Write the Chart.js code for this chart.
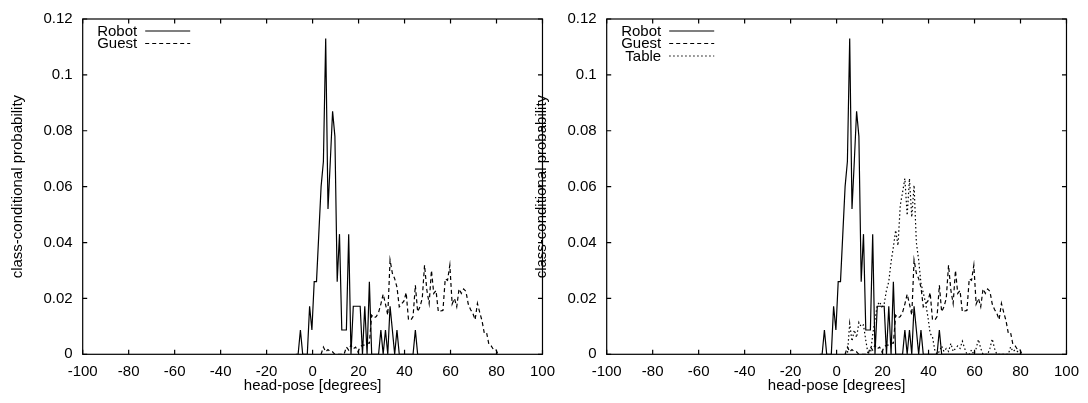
<!DOCTYPE html>
<html>
<head>
<meta charset="utf-8">
<script src="https://cdn.jsdelivr.net/npm/chart.js@4.4.1/dist/chart.umd.min.js"></script>
<style>
  html, body { margin: 0; padding: 0; background: #fff; }
  #wrap { position: relative; width: 1088px; height: 403px; overflow: hidden; }
  .panel { position: absolute; top: 0; width: 564px; height: 403px; }
</style>
</head>
<body>
<div id="wrap">
  <div class="panel" style="left:0"><canvas id="leftChart"></canvas></div>
  <div class="panel" style="left:524px"><canvas id="rightChart"></canvas></div>
</div>
<script>
// histogram bin centres (degrees)
const headPose = [
  -7.3, -6.3, -5.3, -4.3, -3.3, -2.3, -1.3, -0.3, 0.7, 1.7,
  2.7, 3.7, 4.7, 5.7, 6.7, 7.7, 8.7, 9.7, 10.7, 11.7,
  12.7, 13.7, 14.7, 15.7, 16.7, 17.7, 18.7, 19.7, 20.7, 21.7,
  22.7, 23.7, 24.7, 25.7, 26.7, 27.7, 28.7, 29.7, 30.7, 31.7,
  32.7, 33.7, 34.7, 35.7, 36.7, 37.7, 38.7, 39.7, 40.7, 41.7,
  42.7, 43.7, 44.7, 45.7, 46.7, 47.7, 48.7, 49.7, 50.7, 51.7,
  52.7, 53.7, 54.7, 55.7, 56.7, 57.7, 58.7, 59.7, 60.7, 61.7,
  62.7, 63.7, 64.7, 65.7, 66.7, 67.7, 68.7, 69.7, 70.7, 71.7,
  72.7, 73.7, 74.7, 75.7, 76.7, 77.7, 78.7, 79.7, 80.7
];

const robot = [
  0, 0, 0.0087, 0, 0, 0, 0.0172, 0.0087, 0.026, 0.026,
  0.043, 0.060, 0.069, 0.113, 0.052, 0.069, 0.087, 0.078, 0.026, 0.043,
  0.0087, 0.0087, 0.0087, 0.043, 0, 0.0172, 0.0172, 0.0172, 0.0172, 0,
  0.0172, 0, 0.026, 0, 0, 0, 0, 0.0087, 0, 0.0087,
  0, 0.0172, 0.0087, 0, 0.0087, 0, 0, 0, 0, 0,
  0, 0, 0.0087, 0, 0, 0, 0, 0, 0, 0,
  0, 0, 0, 0, 0, 0, 0, 0, 0, 0,
  0, 0, 0, 0, 0, 0, 0, 0, 0, 0,
  0, 0, 0, 0, 0, 0, 0, 0, 0
];

const guest = [
  null, null, null, null, null, null, null, null, null, null,
  null, 0, 0.0026, 0.0009, 0.0017, 0.0009, 0.0009, 0, 0, 0,
  0, 0, 0.0026, 0.0015, 0.0033, 0.0020, 0.0026, 0.0009, 0.0026, 0.0033,
  0.0033, 0.0040, 0.0040, 0.0140, 0.0130, 0.0135, 0.0150, 0.0180, 0.0215, 0.0180,
  0.0140, 0.0337, 0.0290, 0.0271, 0.0240, 0.0170, 0.0180, 0.0190, 0.0221, 0.0125,
  0.0122, 0.0135, 0.0247, 0.0152, 0.0170, 0.0200, 0.0319, 0.0230, 0.0182, 0.0300,
  0.0218, 0.0228, 0.0152, 0.0155, 0.0157, 0.0270, 0.0265, 0.0319, 0.0180, 0.0200,
  0.0170, 0.0234, 0.0218, 0.0234, 0.0225, 0.0180, 0.0160, 0.0147, 0.0124, 0.0182,
  0.0150, 0.0120, 0.0075, 0.0077, 0.0035, 0.0030, 0.0017, 0.0017, 0
];

const table = [
  null, null, null, null, null, null, null, null, null, null,
  null, 0, 0, 0.0110, 0.0047, 0.0087, 0.0060, 0.0114, 0.0099, 0.0105,
  0.0050, 0, 0, 0.0070, 0.0123, 0.0175, 0.0188, 0.0170, 0.0180, 0.0230,
  0.0260, 0.0331, 0.0384, 0.0444, 0.0389, 0.0533, 0.0580, 0.0629, 0.0497, 0.0629,
  0.0491, 0.0605, 0.0400, 0.0337, 0.0254, 0.0220, 0.0184, 0.0135, 0.0075, 0.0063,
  0.0016, 0, 0.0010, 0.0030, 0.0010, 0.0021, 0.0010, 0.0039, 0.0010, 0.0021,
  0.0030, 0.0021, 0.0047, 0.0021, 0, 0, 0.0016, 0, 0.0021, 0.0053,
  0.0021, 0, 0, 0, 0.0021, 0.0055, 0.0021, 0, 0, 0,
  0, 0, 0, 0.0027, 0.0010, 0.0016, 0.0010, 0, 0
];

const xTicks = [-100, -80, -60, -40, -20, 0, 20, 40, 60, 80, 100];
const yTicks = [0, 0.02, 0.04, 0.06, 0.08, 0.1, 0.12];

const FONT = { family: "'Liberation Sans', Arial, Helvetica, sans-serif", size: 15 };
const TICK_LEN = 4.5;

const styles = {
  Robot: [],
  Guest: [4, 3],
  Table: [1.5, 2.5]
};

function series(label, values) {
  return {
    label: label,
    data: headPose.map((x, i) => ({ x: x, y: values[i] })),
    borderColor: '#000',
    borderWidth: 1.2,
    borderDash: styles[label],
    pointRadius: 0,
    tension: 0,
    fill: false,
    spanGaps: false
  };
}

// gnuplot-style box with inward tick marks on all four sides
const framePlugin = {
  id: 'frame',
  afterDraw(chart) {
    const { ctx, chartArea: a, scales: { x, y } } = chart;
    ctx.save();
    ctx.strokeStyle = '#000';
    ctx.lineWidth = 1.2;
    ctx.strokeRect(a.left, a.top, a.right - a.left, a.bottom - a.top);
    ctx.beginPath();
    xTicks.forEach(v => {
      const px = x.getPixelForValue(v);
      ctx.moveTo(px, a.bottom); ctx.lineTo(px, a.bottom - TICK_LEN);
      ctx.moveTo(px, a.top); ctx.lineTo(px, a.top + TICK_LEN);
    });
    yTicks.forEach(v => {
      const py = y.getPixelForValue(v);
      ctx.moveTo(a.left, py); ctx.lineTo(a.left + TICK_LEN, py);
      ctx.moveTo(a.right, py); ctx.lineTo(a.right - TICK_LEN, py);
    });
    ctx.stroke();
    ctx.restore();
  }
};

// key in the top-left corner: label right aligned, line sample after it
const keyPlugin = {
  id: 'key',
  afterDraw(chart) {
    const { ctx, chartArea: a } = chart;
    ctx.save();
    ctx.font = `${FONT.size}px ${FONT.family}`;
    ctx.fillStyle = '#000';
    ctx.strokeStyle = '#000';
    ctx.lineWidth = 1.2;
    ctx.textAlign = 'right';
    ctx.textBaseline = 'middle';
    chart.data.datasets.forEach((ds, i) => {
      const yy = 31 + i * 12.5;
      ctx.fillText(ds.label, a.left + 54.5, yy + 0.5);
      ctx.setLineDash(ds.borderDash);
      ctx.beginPath();
      ctx.moveTo(a.left + 62.5, yy);
      ctx.lineTo(a.left + 107.5, yy);
      ctx.stroke();
    });
    ctx.restore();
  }
};

function makeChart(id, datasets) {
  return new Chart(document.getElementById(id), {
    type: 'line',
    data: { datasets: datasets },
    options: {
      responsive: true,
      maintainAspectRatio: false,
      animation: false,
      devicePixelRatio: 1,
      layout: { padding: { top: 18.3, right: 14.7, left: 0, bottom: 0 } },
      plugins: { legend: { display: false }, tooltip: { enabled: false } },
      scales: {
        x: {
          type: 'linear',
          min: -100,
          max: 100,
          afterBuildTicks: s => { s.ticks = xTicks.map(v => ({ value: v })); },
          afterFit: s => { s.height = 48.7; },
          grid: { display: false, drawTicks: false },
          border: { display: false },
          ticks: { color: '#000', font: FONT, padding: 9, maxRotation: 0, autoSkip: false },
          title: {
            display: true, text: 'head-pose [degrees]', color: '#000', font: FONT,
            padding: { top: 0, bottom: 8 }
          }
        },
        y: {
          type: 'linear',
          min: 0,
          max: 0.12,
          afterBuildTicks: s => { s.ticks = yTicks.map(v => ({ value: v })); },
          afterFit: s => { s.width = 82.7; },
          grid: { display: false, drawTicks: false },
          border: { display: false },
          ticks: {
            color: '#000', font: FONT, padding: 10,
            callback: v => String(Number(v.toFixed(2)))
          },
          title: {
            display: true, text: 'class-conditional probability', color: '#000', font: FONT,
            padding: { top: 9, bottom: 0 }
          }
        }
      }
    },
    plugins: [framePlugin, keyPlugin]
  });
}

makeChart('leftChart', [series('Robot', robot), series('Guest', guest)]);
makeChart('rightChart', [series('Robot', robot), series('Guest', guest), series('Table', table)]);
</script>
</body>
</html>
